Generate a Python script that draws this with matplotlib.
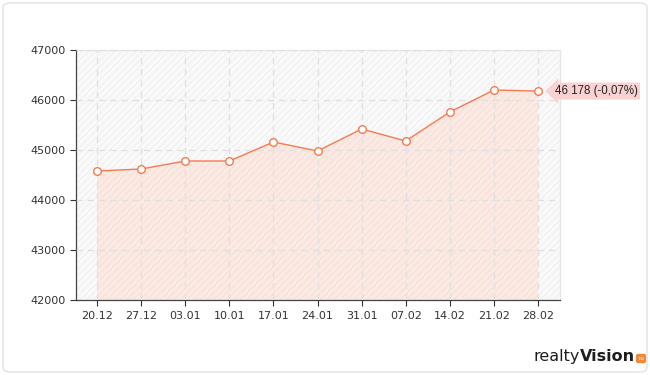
import matplotlib
matplotlib.use("Agg")
import matplotlib.pyplot as plt
from matplotlib.patches import FancyBboxPatch
import numpy as np

plt.rcParams['hatch.linewidth'] = 0.5

dates = ["20.12", "27.12", "03.01", "10.01", "17.01", "24.01", "31.01", "07.02", "14.02", "21.02", "28.02"]
values = [44580, 44620, 44780, 44780, 45160, 44980, 45420, 45180, 45760, 46200, 46178]
yticks = [42000, 43000, 44000, 45000, 46000, 47000]
label_text = "46 178 (-0,07%)"

W, H = 650, 375
fig = plt.figure(figsize=(W / 100, H / 100), dpi=100)
fig.patch.set_facecolor("white")

# outer rounded frame
frame = FancyBboxPatch((3 / W, 3 / H), (W - 6) / W, (H - 6) / H,
                       boxstyle="round,pad=0,rounding_size=0.012",
                       transform=fig.transFigure, facecolor="white",
                       edgecolor="#e2e2e2", linewidth=1.0, zorder=-10)
fig.patches.append(frame)

left, right, top, bottom = 76, 560, 50, 300
ax = fig.add_axes([left / W, 1 - bottom / H, (right - left) / W, (bottom - top) / H])
ax.set_zorder(2)
ax.set_facecolor("#f9f9f9")
x = np.arange(len(dates))
ax.set_xlim(-0.48, len(dates) - 1 + 0.5)
ax.set_ylim(42000, 47000)

# background hatch
ax.fill_between([-0.48, len(dates) - 0.5], 42000, 47000, facecolor="none",
                edgecolor="#ececec", hatch="/////", linewidth=0, zorder=0)

ax.fill_between(x, values, 42000, facecolor="#fbe9e3", edgecolor="none", zorder=1)
ax.fill_between(x, values, 42000, facecolor="none", edgecolor="#f6dcd3",
                hatch="/////", linewidth=0, zorder=1.1)

ax.grid(True, color="#e0e0e0", linestyle=(0, (5, 4)), linewidth=0.9, zorder=1.5)
ax.set_axisbelow(False)

ax.plot(x, values, color="#f47b50", linewidth=1.0, zorder=3)
ax.plot(x, values, linestyle="none", marker="o", markersize=5.5,
        markerfacecolor="white", markeredgecolor="#f47b50", markeredgewidth=1.0, zorder=4)

ax.set_xticks(x)
ax.set_xticklabels(dates)
ax.set_yticks(yticks)
ax.set_yticklabels([str(t) for t in yticks])
ax.tick_params(axis="both", labelsize=8, colors="#333333", length=4, width=0.8)
ax.tick_params(axis="x", pad=4, length=4)
for s in ["left", "bottom"]:
    ax.spines[s].set_color("#444444")
    ax.spines[s].set_linewidth(0.9)
for s in ["top", "right"]:
    ax.spines[s].set_color("#e6e6e6")
    ax.spines[s].set_linewidth(0.9)
for lbl in ax.get_xticklabels() + ax.get_yticklabels():
    lbl.set_color("#333333")

# value label
ax.annotate(label_text, xy=(x[-1], values[-1]), xytext=(12, 0), textcoords="offset points",
            fontsize=8.3, family="Liberation Sans", color="#222222", va="center", ha="left",
            bbox=dict(boxstyle="larrow,pad=0.22", facecolor="#fbd2d2", edgecolor="none"),
            annotation_clip=False, zorder=5)

# logo
fig.canvas.draw()
r = fig.canvas.get_renderer()
t_vis = fig.text(635 / W, 1 - 361 / H, "Vision", fontsize=11.5, color="#1e1e1e",
                 ha="right", va="baseline", fontweight="heavy")
bb = t_vis.get_window_extent(renderer=r)
fig.text(bb.x0 / W, 1 - 361 / H, "realty", fontsize=11.5, color="#1e1e1e",
         ha="right", va="baseline")
fig.text(641 / W, 1 - 360 / H, "ru", fontsize=4, color="white", ha="center", va="baseline",
         bbox=dict(boxstyle="round,pad=0.4", facecolor="#f08a3a", edgecolor="none"))

fig.savefig("out.png", dpi=100)
